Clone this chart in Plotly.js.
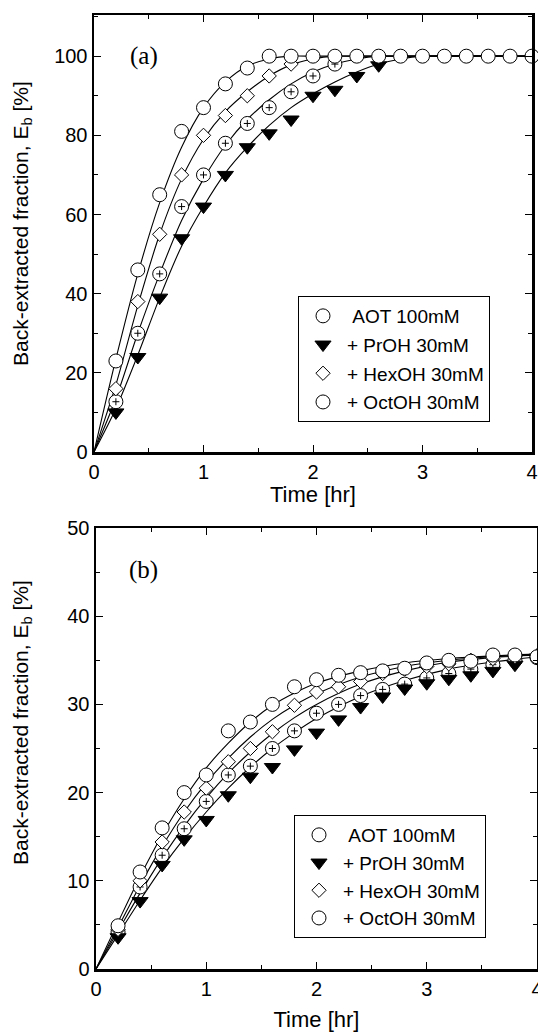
<!DOCTYPE html>
<html>
<head>
<meta charset="utf-8">
<script src="https://cdn.plot.ly/plotly-3.0.1.min.js"></script>
<style>html,body{margin:0;padding:0;background:#fff;}#chart{width:538px;height:1034px;}</style>
</head>
<body>
<div id="chart"></div>
<script>
// ---------- data ----------
const seriesNames = ['\u00a0AOT 100mM', '+ PrOH 30mM', '+ HexOH 30mM', '+ OctOH 30mM'];

// Panel (a) measured points
const tA = [0.2,0.4,0.6,0.8,1.0,1.2,1.4,1.6,1.8,2.0,2.2,2.4,2.6,2.8,3.0,3.2,3.4,3.6,3.8,4.0];
const aAOT   = [12.7,30,45,62,70,78,83,87,91,95,98];
const aPrOH  = [10,24,39,54,62,70,77,80.5,84,90,91.5,95,97.7];
const aHexOH = [16,38,55,70,80,85,90,95,98];
const aOctOH = [23,46,65,81,87,93,97,100,100,100,100,100,100,100,100,100,100,100,100,100];

// Panel (a) fitted curves
const cA_t      = [0,0.2,0.4,0.6,0.8,1.0,1.2,1.4,1.6,1.8,2.0,2.2,2.4,2.6,2.8,3.0,4.0];
const cA_AOT    = [0,13.5,30,45,58.5,69,77.5,84,89,93,96,98,99.3,100,100,100,100];
const cA_PrOH   = [0,11,24.5,39,52,62,70.5,77,82.5,87,90.5,93.5,96,98,99.3,100,100];
const cA_HexOH  = [0,17,37,55,69,79,86,91,95,97.8,99.3,100,100,100,100,100,100];
const cA_OctOH  = [0,23.5,45,63,77,87,93.5,97.5,99.3,100,100,100,100,100,100,100,100];

// Panel (b) measured points
const tB = [0.2,0.4,0.6,0.8,1.0,1.2,1.4,1.6,1.8,2.0,2.2,2.4,2.6,2.8,3.0,3.2,3.4,3.6,3.8,4.0];
const bAOT   = [4.2,9.3,12.9,15.9,19,22,23,25,27,29,30,31,31.7,32.3,33,33.5,34,34.5,35,35.3];
const bPrOH  = [3.6,7.7,11.8,14.7,16.9,19.7,21.8,22.9,24.9,26.8,28.3,29.7,30.9,31.8,32.4,32.9,33.3,33.8,34.5,35.3];
const bHexOH = [4.5,10,14.4,17.8,20.5,23.5,25,26.9,29.9,31.4,32,32.6,33.5,34,34.3,34.6,35,35.2,35.4,35.5];
const bOctOH = [4.9,11,16,20,22,27,28,30,32,32.8,33.3,33.6,33.8,34.1,34.7,35,34.9,35.6,35.6,35.4];

// Panel (b) fitted curves
const cB_t      = [0,0.2,0.4,0.6,0.8,1.0,1.2,1.4,1.6,1.8,2.0,2.4,2.8,3.2,3.6,4.0];
const cB_AOT    = [0,4.3,8.6,12.6,16.2,19.4,22.2,24.6,26.7,28.5,30,32.3,33.8,34.8,35.3,35.6];
const cB_PrOH   = [0,3.9,7.8,11.5,14.8,17.8,20.5,22.9,25,26.8,28.4,30.9,32.7,34,34.8,35.4];
const cB_HexOH  = [0,4.7,9.5,13.9,17.8,21.1,23.9,26.3,28.3,29.9,31.2,33.1,34.3,35,35.4,35.6];
const cB_OctOH  = [0,5.3,10.5,15.2,19.3,22.8,25.6,28,29.9,31.3,32.4,33.8,34.7,35.2,35.5,35.7];

// ---------- styling ----------
const FONT = 'Liberation Sans, Arial, Helvetica, sans-serif';
const SERIF = 'Liberation Serif, Times New Roman, serif';
const styles = [
  {symbol:'circle', size:14, color:'white'},          // AOT
  {symbol:'triangle-down', size:14, color:'black'},   // PrOH
  {symbol:'diamond', size:11, color:'white'},         // HexOH
  {symbol:'circle', size:14, color:'white'}           // OctOH
];

function curveTrace(x, y, xa, ya) {
  return {x:x, y:y, xaxis:xa, yaxis:ya, mode:'lines', type:'scatter',
    line:{color:'black', width:1.1, shape:'spline', smoothing:0.8},
    showlegend:false, hoverinfo:'skip', cliponaxis:false};
}
function pointTrace(i, t, y, xa, ya, leg) {
  const s = styles[i];
  return {x:t.slice(0, y.length), y:y, xaxis:xa, yaxis:ya, mode:'markers', type:'scatter',
    name:seriesNames[i], legend:leg, legendgroup:leg+i,
    marker:{symbol:s.symbol, size:s.size, color:s.color, line:{color:'black', width:1}},
    cliponaxis:false};
}
function plusTrace(t, y, xa, ya) {
  return {x:t.slice(0, y.length), y:y, xaxis:xa, yaxis:ya, mode:'markers', type:'scatter',
    marker:{symbol:'cross-thin', size:5, color:'black', line:{color:'black', width:1}},
    showlegend:false, hoverinfo:'skip', cliponaxis:false};
}

const traces = [
  curveTrace(cA_t, cA_PrOH, 'x', 'y'),
  curveTrace(cA_t, cA_AOT, 'x', 'y'),
  curveTrace(cA_t, cA_HexOH, 'x', 'y'),
  curveTrace(cA_t, cA_OctOH, 'x', 'y'),
  curveTrace(cB_t, cB_PrOH, 'x2', 'y2'),
  curveTrace(cB_t, cB_AOT, 'x2', 'y2'),
  curveTrace(cB_t, cB_HexOH, 'x2', 'y2'),
  curveTrace(cB_t, cB_OctOH, 'x2', 'y2'),
  pointTrace(0, tA, aAOT, 'x', 'y', 'legend'),
  plusTrace(tA, aAOT, 'x', 'y'),
  pointTrace(1, tA, aPrOH, 'x', 'y', 'legend'),
  pointTrace(2, tA, aHexOH, 'x', 'y', 'legend'),
  pointTrace(3, tA, aOctOH, 'x', 'y', 'legend'),
  pointTrace(0, tB, bAOT, 'x2', 'y2', 'legend2'),
  plusTrace(tB, bAOT, 'x2', 'y2'),
  pointTrace(1, tB, bPrOH, 'x2', 'y2', 'legend2'),
  pointTrace(2, tB, bHexOH, 'x2', 'y2', 'legend2'),
  pointTrace(3, tB, bOctOH, 'x2', 'y2', 'legend2')
];

const W = 538, H = 1034;
function axisBase(extra) {
  return Object.assign({
    ticks:'inside', ticklen:7, tickwidth:1, tickcolor:'black',
    showline:true, linewidth:2.5, linecolor:'black', mirror:'allticks',
    showgrid:false, zeroline:false, fixedrange:true, ticklabeloverflow:'allow',
    tickfont:{family:FONT, size:20, color:'black'}
  }, extra);
}
const minorX = {dtick:0.5, ticks:'inside', ticklen:4, tickwidth:1, tickcolor:'black', showgrid:false};
const xTitleFont = {family:FONT, size:22, color:'black'};

const legendBase = {
  xanchor:'left', yanchor:'top', bgcolor:'white', bordercolor:'black', borderwidth:1,
  font:{family:FONT, size:19, color:'black'}, traceorder:'grouped',
  itemsizing:'trace', itemwidth:38
};

const yTitleText = 'Back-extracted fraction, E<sub>b</sub> [%]';
const titleFont = {family:FONT, size:21, color:'black'};

const layout = {
  width:W, height:H, margin:{l:0, r:0, t:0, b:0},
  paper_bgcolor:'white', plot_bgcolor:'white', showlegend:true,
  xaxis: axisBase({domain:[94/W, 532/W], anchor:'y', range:[0,4], dtick:1, minor:minorX,
    title:{text:'Time [hr]', font:xTitleFont, standoff:5}}),
  yaxis: axisBase({domain:[1-452/H, 1-15/H], anchor:'x', range:[0,110.4], dtick:20,
    minor:{dtick:10, ticks:'inside', ticklen:4, tickwidth:1, tickcolor:'black', showgrid:false}}),
  xaxis2: axisBase({domain:[96/W, 537/W], anchor:'y2', range:[0,4], dtick:1, minor:minorX,
    title:{text:'Time [hr]', font:xTitleFont, standoff:13}}),
  yaxis2: axisBase({domain:[1-969/H, 1-528/H], anchor:'x2', range:[0,50], dtick:10,
    minor:{dtick:5, ticks:'inside', ticklen:4, tickwidth:1, tickcolor:'black', showgrid:false}}),
  legend: Object.assign({}, legendBase, {x:298/W, y:1-296/H, tracegroupgap:1}),
  legend2: Object.assign({}, legendBase, {x:294/W, y:1-815/H, tracegroupgap:0}),
  annotations:[
    {xref:'paper', yref:'paper', x:144/W, y:1-56/H, text:'(a)', showarrow:false,
     xanchor:'center', yanchor:'middle', font:{family:SERIF, size:25, color:'black'}},
    {xref:'paper', yref:'paper', x:143/W, y:1-570/H, text:'(b)', showarrow:false,
     xanchor:'center', yanchor:'middle', font:{family:SERIF, size:25, color:'black'}},
    {xref:'paper', yref:'paper', x:22/W, y:1-224/H, text:yTitleText, textangle:-90,
     xanchor:'center', yanchor:'middle', showarrow:false, font:titleFont},
    {xref:'paper', yref:'paper', x:22/W, y:1-723/H, text:yTitleText, textangle:-90,
     xanchor:'center', yanchor:'middle', showarrow:false, font:titleFont}
  ]
};

Plotly.newPlot('chart', traces, layout, {staticPlot:true, displayModeBar:false});
</script>
</body>
</html>
